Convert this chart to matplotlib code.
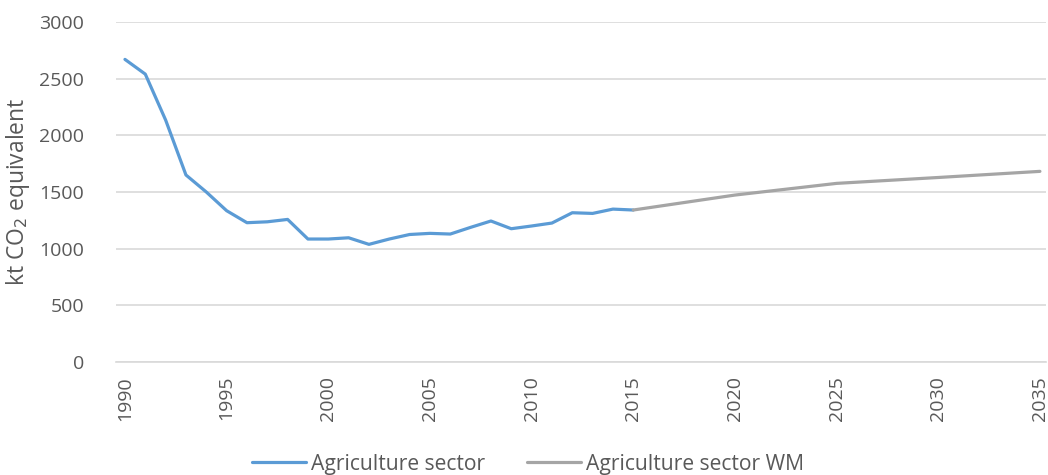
import matplotlib
matplotlib.use("Agg")
import matplotlib.pyplot as plt

years_hist = list(range(1990, 2016))
agri_hist = [2670, 2540, 2135, 1650, 1500, 1335, 1229, 1237, 1258, 1085,
             1085, 1096, 1038, 1085, 1125, 1135, 1129, 1188, 1244, 1176,
             1200, 1226, 1317, 1311, 1349, 1341]
years_wm = [2015, 2020, 2025, 2030, 2035]
agri_wm = [1341, 1473, 1576, 1628, 1682]
yticks = [0, 500, 1000, 1500, 2000, 2500, 3000]
xticks = [1990, 1995, 2000, 2005, 2010, 2015, 2020, 2025, 2030, 2035]

plt.rcParams['font.family'] = ['Open Sans', 'DejaVu Sans']
txt = '#595959'

fig = plt.figure(figsize=(10.48, 4.75), dpi=100)
ax = fig.add_axes([0.1107, 0.2379, 0.8874, 0.7158])

ax.plot(years_hist, agri_hist, color='#5B9BD5', lw=2.3, solid_capstyle='round',
        label='Agriculture sector', zorder=3)
ax.plot(years_wm, agri_wm, color='#A5A5A5', lw=2.3, solid_capstyle='round',
        label='Agriculture sector WM', zorder=3)

ax.set_ylim(0, 3000)
ax.set_xlim(1989.56, 2035.3)
ax.set_yticks(yticks)
ax.set_xticks(xticks)
ax.set_xticklabels([str(x) for x in xticks], rotation=90)
ax.grid(axis='y', color='#D9D9D9', lw=1.2)
ax.set_axisbelow(True)
for s in ['top', 'right', 'left']:
    ax.spines[s].set_visible(False)
ax.spines['bottom'].set_color('#D9D9D9')
ax.spines['bottom'].set_linewidth(1.2)
ax.tick_params(axis='both', length=0, labelsize=14, labelcolor=txt)
ax.tick_params(axis='y', pad=23)
ax.tick_params(axis='x', pad=10)
ax.set_ylabel('kt CO$_2$ equivalent', fontsize=16.5, color=txt)
ax.yaxis.set_label_coords(-0.09, 0.5)

fig.legend(loc='center', ncol=2, frameon=False, fontsize=15.2,
           bbox_to_anchor=(0.504, 0.023), handlelength=2.55, handletextpad=0.24,
           columnspacing=2.0, labelcolor=txt)

fig.savefig('out.png', dpi=100)
